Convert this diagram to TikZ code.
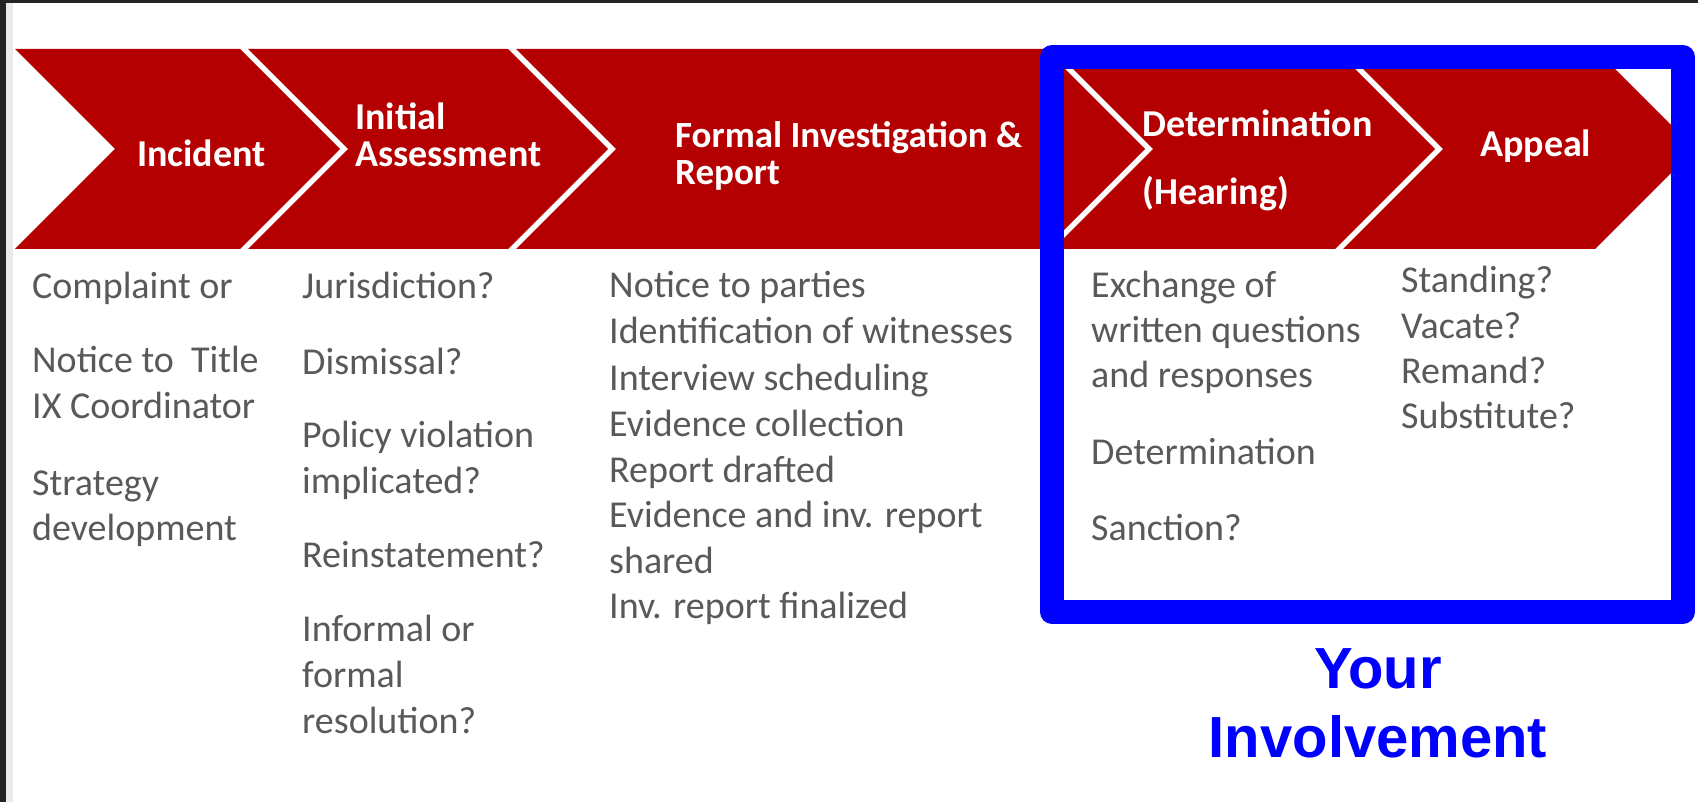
\documentclass[tikz,border=0pt]{standalone}
\usepackage{fontspec}
\setmainfont{Carlito}
\newfontfamily\calloutfont{Liberation Sans}
\usetikzlibrary{positioning}

\definecolor{stepred}{RGB}{180,0,0}
\definecolor{itemgray}{RGB}{89,89,89}
\definecolor{darkframe}{RGB}{36,36,36}
\definecolor{edgegray}{RGB}{234,234,234}
\definecolor{involve}{RGB}{0,0,255}

% one red step of the process band: left x, right x (top corners)
\newcommand{\stagearrow}[2]{%
  \fill[stage] (#1,49) -- (#2,49) -- ({#2+100},149) -- (#2,249) -- (#1,249) -- ({#1+100},149) -- cycle;}

\tikzset{
  stage/.style={fill=stepred},
  head/.style={anchor=base west,inner sep=0pt,text=white,font=\fontsize{38}{46}\selectfont\bfseries},
  item/.style={anchor=base west,inner sep=0pt,text=itemgray,font=\fontsize{38}{46}\selectfont},
  callout/.style={anchor=base,inner sep=0pt,text=involve,font=\calloutfont\bfseries\fontsize{58}{69}\selectfont}
}

\begin{document}
\begin{tikzpicture}[x=1pt,y=-1pt]
	\useasboundingbox (0,0) rectangle (1698,802);
	\fill[white] (0,0) rectangle (1698,802);
	\fill[darkframe] (0,0) rectangle (1698,3);
	\fill[darkframe] (0,0) rectangle (6,802);
	\fill[edgegray] (6,3) rectangle (13,802);

	% process band
	\stagearrow{15}{240}
	\stagearrow{248}{508}
	\stagearrow{516}{1045}
	\stagearrow{1053}{1335}
	\stagearrow{1343}{1595}

	% highlight frame around the last two steps
	\draw[involve,line width=24,line join=round] (1052,57) rectangle (1683,612);

	% step titles
	\node[head] (incident) at (137,167) {Incident};
	\node[head] (assess1) at (355,130) {Initial};
	\node[head] (assess2) at (355,167) {Assessment};
	\node[head,font=\fontsize{37}{46}\selectfont\bfseries] (formal1) at (675,148) {Formal Investigation \&};
	\node[head,font=\fontsize{37}{46}\selectfont\bfseries] (formal2) at (675,185) {Report};
	\node[head] (determ1) at (1142,137) {Determination};
	\node[head] (determ2) at (1142,205) {(Hearing)};
	\node[head] (appeal) at (1480,157) {Appeal};

	% incident
	\node[item] (inc1) at (32,299) {Complaint or};
	\node[item] (inc2) at (32,373) {Notice to\ \ Title};
	\node[item] (inc3) at (32,418) {IX Coordinator};
	\node[item] (inc4) at (32,495) {Strategy};
	\node[item] (inc5) at (32,540) {development};

	% initial assessment
	\node[item] (ass1) at (302,299) {Jurisdiction?};
	\node[item] (ass2) at (302,374) {Dismissal?};
	\node[item] (ass3) at (302,447) {Policy violation};
	\node[item] (ass4) at (302,493) {implicated?};
	\node[item] (ass5) at (302,567) {Reinstatement?};
	\node[item] (ass6) at (302,641) {Informal or};
	\node[item] (ass7) at (302,687) {formal};
	\node[item] (ass8) at (302,733) {resolution?};

	% investigation
	\node[item] (inv1) at (609,298) {Notice to parties};
	\node[item] (inv2) at (609,344) {Identification of witnesses};
	\node[item] (inv3) at (609,390) {Interview scheduling};
	\node[item] (inv4) at (609,436) {Evidence collection};
	\node[item] (inv5) at (609,482) {Report drafted};
	\node[item] (inv6) at (609,527) {Evidence and inv. report};
	\node[item] (inv7) at (609,573) {shared};
	\node[item] (inv8) at (609,618) {Inv. report finalized};

	% hearing
	\node[item] (hear1) at (1091,298) {Exchange of};
	\node[item] (hear2) at (1091,343) {written questions};
	\node[item] (hear3) at (1091,388) {and responses};
	\node[item] (hear4) at (1091,464) {Determination};
	\node[item] (hear5) at (1091,540) {Sanction?};

	% appeal
	\node[item] (app1) at (1401,293) {Standing?};
	\node[item] (app2) at (1401,338) {Vacate?};
	\node[item] (app3) at (1401,383) {Remand?};
	\node[item] (app4) at (1401,428) {Substitute?};

	\node[callout] (your) at (1378,688) {Your};
	\node[callout] (involvement) at (1378,757) {Involvement};
\end{tikzpicture}
\end{document}
